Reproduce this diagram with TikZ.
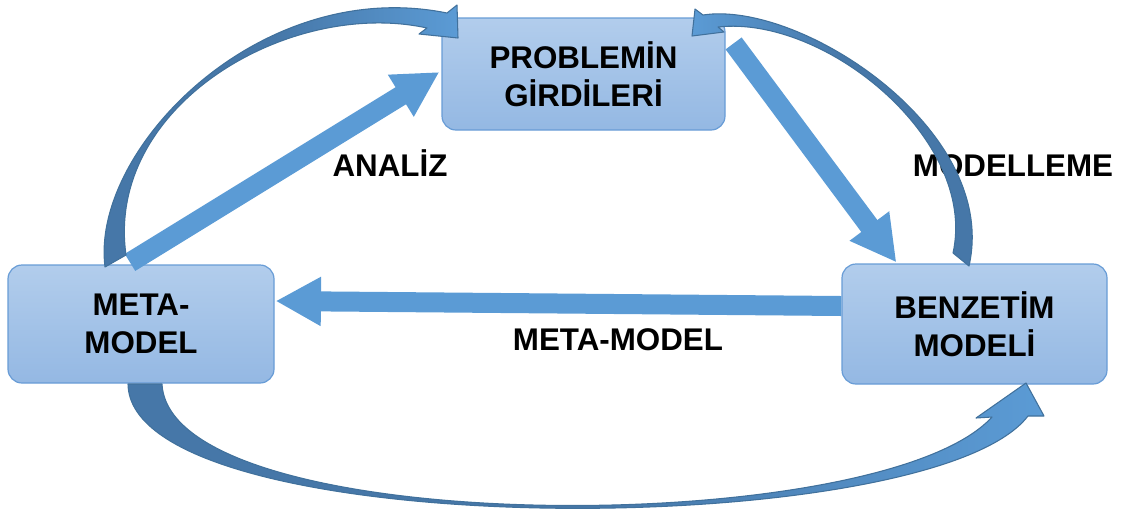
\documentclass[tikz,border=0pt]{standalone}
\usepackage{fontspec}
\setmainfont{Liberation Sans}
\usetikzlibrary{arrows.meta,calc}
\definecolor{boxtop}{RGB}{178,205,236}
\definecolor{boxbot}{RGB}{148,184,227}
\definecolor{boxline}{RGB}{104,156,214}
\definecolor{flow}{RGB}{91,155,213}
\definecolor{arcdark}{RGB}{70,119,168}
\definecolor{arcline}{RGB}{65,113,156}
\begin{document}
\begin{tikzpicture}[x=0.75pt,y=-0.75pt,
  stage/.style={draw=boxline, line width=0.9pt, rounded corners=10.5pt,
    top color=boxtop, bottom color=boxbot, align=center, inner sep=0pt,
    font=\bfseries\fontsize{23.5}{28.5}\selectfont},
  flowarrow/.style={draw=flow, line width=15pt,
    -{Triangle[width=34.5pt,length=34pt]}},
  tag/.style={font=\bfseries\fontsize{23.5}{28.5}\selectfont, inner sep=0pt, anchor=base},
  ribbon/.style={draw=arcline, line width=0.8pt, line join=round}
]
\useasboundingbox (0,0) rectangle (1124,512);

% the three stages
\node[stage, minimum width=212.25pt, minimum height=84pt] (prob) at (583.5,74) {PROBLEMİN\\GİRDİLERİ};
\node[stage, minimum width=199.5pt, minimum height=88.5pt] (meta) at (141,324) {META-\\MODEL};
\node[stage, minimum width=198.75pt, minimum height=90pt] (benz) at (974.5,324) {BENZETİM\\MODELİ};

% straight flow arrows
\draw[flowarrow] ($(meta.north)+(-11,-2)$) -- ($(prob.west)+(-2,-2)$);
\draw[flowarrow] ($(prob.north east)+(8,26)$) -- ($(benz.north west)+(55,-1)$);
\draw[flowarrow] ($(benz.west)+(0,-18)$) -- ($(meta.east)+(1,-23)$);

% labels
\node[tag] (lanaliz) at (390,176) {ANALİZ};
\node[tag] (lmodelleme) at (1013,176) {MODELLEME};
\node[tag] (lmeta) at (618,350) {META-MODEL};

% curved ribbon arrows
\path[ribbon, left color=arcdark, right color=flow, middle color=arcdark]
  (105,267) .. controls (90,150) and (260,-25) .. (447,13)
  -- (457,5) -- (458,38) -- (419,34) -- (427,28)
  .. controls (290,-2) and (105,105) .. (126,255) -- cycle;
\path[ribbon, right color=arcdark, left color=flow, middle color=arcdark]
  (969,266) .. controls (1000,130) and (800,0) .. (703,15)
  -- (695,9) -- (692,36) -- (724,32) -- (718,27)
  .. controls (825,15) and (978,140) .. (953,253) -- cycle;
\path[ribbon, left color=arcdark, right color=flow, middle color=arcdark]
  (128,384) .. controls (130,544) and (930,544) .. (1028,416)
  -- (1044,416) -- (1026,383) -- (976,418) -- (992,417)
  .. controls (880,540) and (170,540) .. (162,384) -- cycle;
\end{tikzpicture}
\end{document}
